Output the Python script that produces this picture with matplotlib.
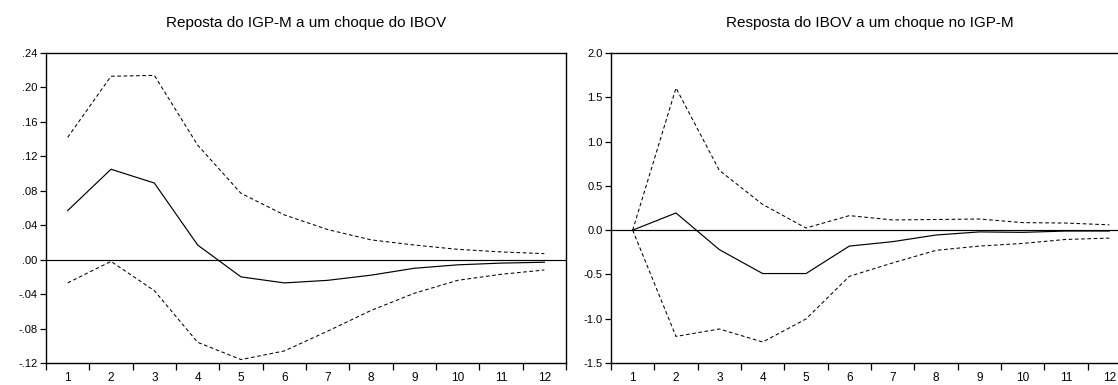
import matplotlib
matplotlib.use("Agg")
import matplotlib.pyplot as plt
from matplotlib.ticker import FixedLocator, FuncFormatter

plt.rcParams['font.family'] = ['Liberation Sans', 'DejaVu Sans']

periods = list(range(1, 13))

# Left: response of IGP-M to an IBOV shock
igpm_resp = [0.057, 0.105, 0.089, 0.017, -0.020, -0.027, -0.024, -0.018, -0.010, -0.006, -0.004, -0.003]
igpm_upper = [0.142, 0.213, 0.214, 0.133, 0.077, 0.052, 0.035, 0.023, 0.017, 0.012, 0.009, 0.007]
igpm_lower = [-0.027, -0.002, -0.036, -0.096, -0.116, -0.106, -0.083, -0.059, -0.039, -0.024, -0.017, -0.012]

# Right: response of IBOV to an IGP-M shock
ibov_resp = [0.0, 0.194, -0.22, -0.49, -0.49, -0.18, -0.13, -0.055, -0.02, -0.025, -0.01, -0.01]
ibov_upper = [0.0, 1.605, 0.675, 0.29, 0.024, 0.164, 0.115, 0.12, 0.126, 0.085, 0.08, 0.06]
ibov_lower = [0.0, -1.20, -1.116, -1.263, -1.003, -0.521, -0.37, -0.228, -0.18, -0.15, -0.105, -0.09]

title_left = "Reposta do IGP-M a um choque do IBOV"
title_right = "Resposta do IBOV a um choque no IGP-M"
yticks_left = [-0.12, -0.08, -0.04, 0.00, 0.04, 0.08, 0.12, 0.16, 0.20, 0.24]
yticks_right = [-1.5, -1.0, -0.5, 0.0, 0.5, 1.0, 1.5, 2.0]

W, H = 1118, 385
fig = plt.figure(figsize=(W / 100, H / 100), dpi=100)

def px_axes(x0, y0, x1, y1):
    return fig.add_axes([x0 / W, 1 - y1 / H, (x1 - x0) / W, (y1 - y0) / H])

ax1 = px_axes(46, 53, 566, 363)
ax2 = px_axes(611, 53, 1131, 363)

def fmt_left(v, pos):
    s = "%.2f" % v
    s = s.replace("0.", ".")
    return s

def fmt_right(v, pos):
    return "%.1f" % v

def style(ax, resp, upper, lower, yt, fmt, title):
    ax.plot(periods, resp, color='black', lw=0.85)
    ax.plot(periods, upper, color='black', lw=0.75, ls=(0, (3.5, 2.5)))
    ax.plot(periods, lower, color='black', lw=0.75, ls=(0, (3.5, 2.5)))
    ax.axhline(0, color='black', lw=0.85)
    ax.set_xlim(0.5, 12.5)
    ax.set_ylim(yt[0], yt[-1])
    ax.yaxis.set_major_locator(FixedLocator(yt))
    ax.yaxis.set_major_formatter(FuncFormatter(fmt))
    ax.xaxis.set_major_locator(FixedLocator(periods))
    ax.xaxis.set_minor_locator(FixedLocator([p + 0.5 for p in range(0, 13)]))
    ax.tick_params(axis='x', which='major', length=0, pad=6.5, labelsize=8.5)
    ax.tick_params(axis='x', which='minor', length=5, width=0.9, direction='out')
    ax.tick_params(axis='y', length=4, width=0.9, direction='out', pad=2, labelsize=8)
    for sp in ax.spines.values():
        sp.set_linewidth(1.0)
    ax.set_title(title, fontsize=11, pad=19)

style(ax1, igpm_resp, igpm_upper, igpm_lower, yticks_left, fmt_left, title_left)
style(ax2, ibov_resp, ibov_upper, ibov_lower, yticks_right, fmt_right, title_right)

# right panel title centred over the visible part of the panel
ax2.title.set_x(0.497)

fig.savefig("out.png", dpi=100)
